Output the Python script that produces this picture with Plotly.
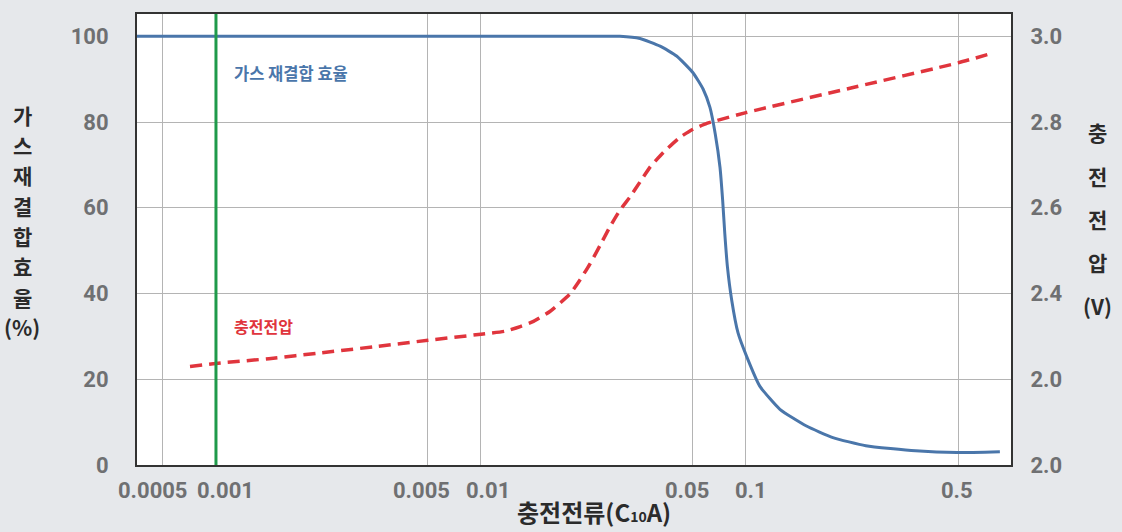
import plotly.graph_objects as go

# x axis uses positional units: the chart's current axis is non-uniform
# tick positions (units) and their labels (charge current, C10A)
x_tick_pos = [0, 1, 5, 6, 10, 11, 15]
x_tick_labels = ["0.0005", "0.001", "0.005", "0.01", "0.05", "0.1", "0.5"]

# gas recombination efficiency (%) vs position
eff_x = [-0.49, 2.0, 5.0, 8.0, 8.62, 9.0, 9.38, 9.69, 10.0, 10.19, 10.32, 10.42, 10.51,
         10.56, 10.60, 10.65, 10.73, 10.85, 11.01, 11.26, 11.64, 12.14, 12.64, 13.26,
         14.20, 14.98, 15.79]
eff_y = [100, 100, 100, 100, 100, 99.5, 97.7, 95.4, 91.5, 87.7, 83.4, 77.2, 69.4,
         61.7, 54.0, 46.2, 38.5, 30.8, 25.4, 18.4, 13.0, 9.1, 6.4, 4.5,
         3.3, 2.9, 3.1]

# charge voltage (V) vs position
volt_x = [0.51, 1.0, 2.0, 3.0, 4.0, 5.0, 6.0, 6.45, 6.74, 6.99, 7.30, 7.68, 7.87,
          8.06, 8.25, 8.43, 8.62, 8.81, 9.0, 9.19, 9.44, 9.75, 10.0, 10.26, 10.38,
          11.0, 13.0, 15.0, 15.66]
volt_y = [2.230, 2.237, 2.248, 2.262, 2.276, 2.291, 2.305, 2.312, 2.323, 2.335, 2.358,
          2.399, 2.432, 2.470, 2.513, 2.555, 2.594, 2.625, 2.660, 2.695, 2.729, 2.764,
          2.783, 2.797, 2.801, 2.822, 2.880, 2.938, 2.961]

# green marker line at 0.001
marker_x = 1.0

left_ticks = [0, 20, 40, 60, 80, 100]
right_tick_vals = [2.0, 2.2, 2.4, 2.6, 2.8, 3.0]
right_tick_labels = ["2.0", "2.0", "2.4", "2.6", "2.8", "3.0"]

left_title_chars = ["가", "스", "재", "결", "합", "효", "율", "(%)"]
right_title_chars = ["충", "전", "전", "압", "(V)"]

# horizontal nudges (px) of the x tick labels, as in the reference
x_label_shift = [-10, 10, -6, 7, -6, 5, -1]

KR = "Noto Sans CJK KR"
NUM = "Roboto"
W, H = 1122, 532
L, R, T, B = 137, 111, 12, 67
PW, PH = W - L - R, H - T - B

def px2paper(px, py):
    return (px - L) / PW, (H - B - py) / PH

fig = go.Figure()
fig.add_trace(go.Scatter(x=eff_x, y=eff_y, mode="lines",
                         line=dict(color="#4a76aa", width=3, shape="spline", smoothing=0.5),
                         showlegend=False, yaxis="y"))
fig.add_trace(go.Scatter(x=volt_x, y=volt_y, mode="lines",
                         line=dict(color="#e0353d", width=3.5, dash="12px,7px", shape="spline", smoothing=0.5),
                         showlegend=False, yaxis="y2"))

fig.add_shape(type="line", x0=marker_x, x1=marker_x, y0=0, y1=1, xref="x", yref="paper",
              line=dict(color="#1f9a4a", width=3), layer="above")

tickfont = dict(family=NUM, size=22, color="#6f7072", weight="bold")

# x tick labels, anchored to the axis positions
for pos, lab, sh in zip(x_tick_pos, x_tick_labels, x_label_shift):
    fig.add_annotation(x=pos, xref="x", y=0, yref="paper", text=lab, showarrow=False,
                       xanchor="center", yanchor="middle", xshift=sh, yshift=-25,
                       font=tickfont)

ann = []
ann.append(dict(x=232, y=71, text="<b>가스 재결합 효율</b>", color="#4a76aa", size=16.5, xanchor="left"))
ann.append(dict(x=232, y=325, text="<b>충전전압</b>", color="#e0353d", size=16, xanchor="left"))
for i, c in enumerate(left_title_chars):
    ann.append(dict(x=22, y=113 + 30.5 * i, text="<b>%s</b>" % c, color="#2b2b2b", size=21, xanchor="center"))
for i, c in enumerate(right_title_chars):
    ann.append(dict(x=1097, y=131 + 43.5 * i, text="<b>%s</b>" % c, color="#2b2b2b", size=21, xanchor="center"))
ann.append(dict(x=594, y=512, text="<b>충전전류(C<span style='font-size:14px'>10</span>A)</b>",
                color="#2b2b2b", size=24, xanchor="center"))

for a in ann:
    xp, yp = px2paper(a["x"], a["y"])
    fig.add_annotation(x=xp, y=yp, xref="paper", yref="paper", text=a["text"], showarrow=False,
                       xanchor=a["xanchor"], yanchor="middle",
                       font=dict(family=KR, size=a["size"], color=a["color"]))

fig.update_layout(
    width=W, height=H,
    margin=dict(l=L, r=R, t=T, b=B),
    paper_bgcolor="#e6e8eb",
    plot_bgcolor="#ffffff",
    xaxis=dict(range=[-0.49, 16.0], tickvals=x_tick_pos, showticklabels=False,
               showgrid=True, gridcolor="#b4b4b4", gridwidth=1, zeroline=False,
               showline=True, linecolor="#333333", linewidth=2, mirror=True, ticks=""),
    yaxis=dict(range=[0, 105.2], tickvals=left_ticks, showgrid=True, gridcolor="#b4b4b4", gridwidth=1,
               zeroline=False, showline=True, linecolor="#333333", linewidth=2, mirror=True,
               ticks="outside", ticklen=22, tickcolor="rgba(0,0,0,0)", tickfont=tickfont),
    yaxis2=dict(range=[2.0, 3.052], overlaying="y", side="right", tickvals=right_tick_vals,
                ticktext=right_tick_labels, showgrid=False, zeroline=False, showline=False,
                ticks="outside", ticklen=14, tickcolor="rgba(0,0,0,0)", tickfont=tickfont),
)

fig.write_html("out.html", config={"displayModeBar": False},
               post_script="document.body.style.margin='0';document.body.style.overflow='hidden';")
